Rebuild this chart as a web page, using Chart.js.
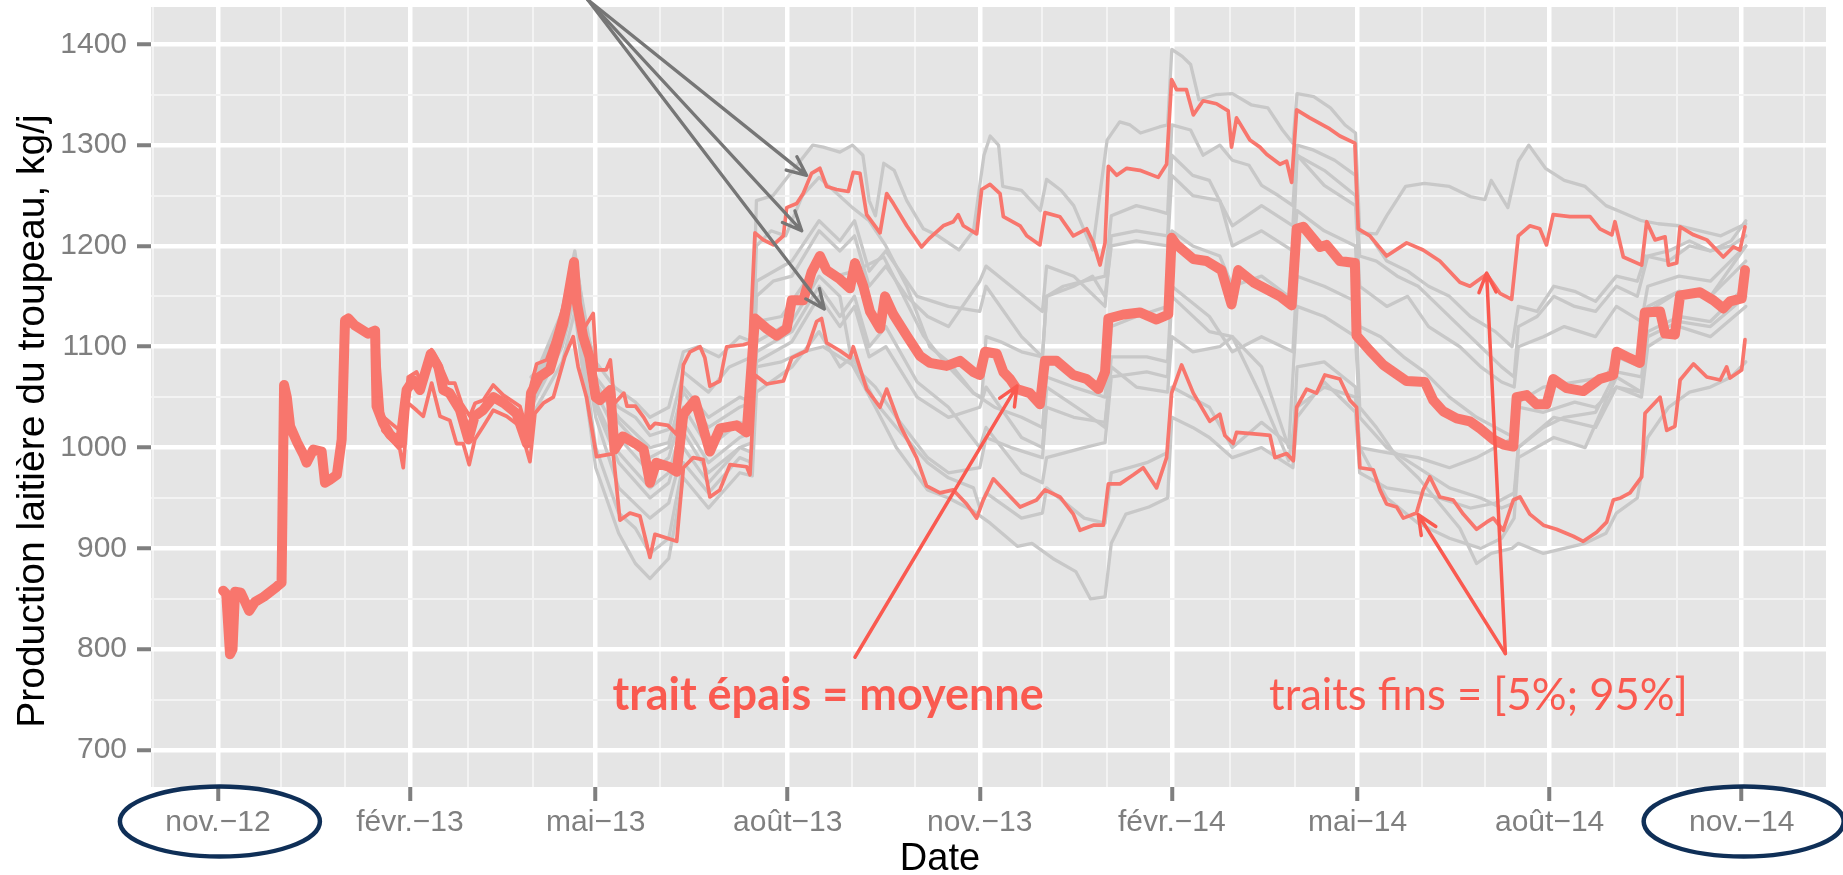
<!DOCTYPE html>
<html lang="fr">
<head>
<meta charset="utf-8">
<title>Production laitière du troupeau</title>
<script src="https://cdn.jsdelivr.net/npm/chart.js@4.4.1/dist/chart.umd.min.js"></script>
<style>
  html, body { margin: 0; padding: 0; background: #fff; }
  #wrap { width: 1843px; height: 875px; }
</style>
</head>
<body>
<div id="wrap"><canvas id="milk-chart" width="1843" height="875"></canvas></div>
<script>
// x values are days since 1 Nov 2012, y values in kg/j
const xTickLabels = ["nov.−12", "févr.−13", "mai−13", "août−13", "nov.−13", "févr.−14", "mai−14", "août−14", "nov.−14"];
const xTickMonths = [[2012, 10], [2013, 1], [2013, 4], [2013, 7], [2013, 10], [2014, 1], [2014, 4], [2014, 7], [2014, 10]];
const yTickValues = [700, 800, 900, 1000, 1100, 1200, 1300, 1400];

// thick line = moyenne
const meanDays = [2.5,4,5.8,7,8.2,11,15,17.8,22,28.2, 30.5,31.7,33,34.6,38,41,42.5,45.7,49.7,51.3,
  53.7,57,59.3,60.9,62.5,65.7,72,75.3,76,79.2, 82.4,87.2,90.4,93.6,96.8,102,105.6,108,111,116,
  120,123,127,132,137,143,148,150,154,159, 165.5,170.6,172,175,178,181,183,188,190,194,
  200,204,207,210,216,219.8,223,228.6,232.5,235.7, 240.5,248.5,253.3,257.3,262.9,267.7,272.5,274.9,280.4,284.4,
  288.4,291.6,298,302.8,305.2,309.2,312.4,317.2,319.6,323.6, 330,336.3,341.1,349.1,355.5,361.9,365,367.5,373.1,376.3,
  379.5,382.7,389,393.8,396.2,401.8,409.8,416.2,421.8,425, 426.6,433.8,441.7,449.7,455.3,456.9,459.3,467.3,473.6,480.8,
  485.6,488.8,496,502.4,508.8,514.4,516.8,520,528,531.1, 537.5,544.7,545.5,551.9,558.3,563.1,569.5,578.2,582.2,587,
  593.4,599.8,604.6,611,615.8,620.6,622.2,627,631.7,636.5, 639.7,646.1,654.1,662.1,668.5,670.1,674.9,681.2,683.6,690.9,
  693.3,698,700.5,710,716.5,721.2,724.4,730,731.6];
const meanKg = [858,855,795,800,857,856,838,847,852,862, 866,1062,1050,1021,1005,993,985,998,996,965,
  968,973,1008,1126,1128,1121,1113,1116,1041,1024, 1013,1004,1057,1067,1057,1093,1080,1057,1054,1037,
  1008,1031,1037,1050,1044,1034,1004,1054,1070,1077, 1123,1184,1143,1110,1090,1050,1047,1057,998,1011,
  1004,998,965,985,981,976,1033,1047,1019,996, 1019,1022,1015,1128,1118,1111,1118,1146,1146,1174,
  1190,1176,1167,1158,1183,1160,1135,1118,1150,1132, 1111,1091,1084,1081,1086,1075,1072,1095,1093,1075,
  1068,1058,1054,1043,1086,1086,1072,1068,1058,1075, 1128,1132,1134,1127,1132,1208,1201,1187,1185,1176,
  1142,1176,1164,1157,1150,1141,1217,1219,1199,1201, 1185,1183,1111,1096,1082,1075,1066,1065,1047,1036,
  1029,1026,1019,1008,1003,1001,1050,1052,1043,1043, 1068,1059,1056,1068,1072,1095,1090,1084,1134,1135,
  1113,1112,1151,1154,1146,1138,1145,1148,1176];

// thin lines = 95% and 5%
const upperDays = [76,79,88.8,91.2,95.2,97.6,102.4,106.4,110.3,113.5, 116.7,120.7,123.2,127.1,131.9,136.7,144.7,147.1,150.3,152.7,
  157.5,160.7,165.5,170.6,173.4,175,179.8,181.4,186,188, 190,194.5,196,200,204,207,209.4,215.6,219.8,223,
  226.2,231,233.3,235.7,240.5,243.7,251.7,254.9,257.3,261.3, 266.1,270.9,272.5,277.3,280.4,284.4,288.4,291.6,296.4,302,
  304.4,307.6,310.8,317.2,320.4,323.6,330,337.1,341.1,347.5, 352.3,354.7,357.1,363.5,365.9,369.9,374.7,376.3,384.3,387.5,
  393.8,396.2,403.4,409.8,416.2,419.4,422.6,425,426.6,430.6, 435.4,441.7,450.5,454.5,456.9,459.3,464,467.3,472,478.4,
  484,485.6,488,494.4,499.2,502.4,508.8,512,514.4,516.8, 523.1,532.7,537.5,544.7,546.3,551.9,559.9,569.5,577.4,585.4,
  595,599.8,607.8,614.2,619.8,623,628.5,633.3,636.5,639.7, 647.7,657.4,662.1,667.8,669.3,673.3,682.1,684.5,688.5,693.3,
  694.9,698.9,700.5,706.9,713.3,721.2,726,729.2,731.6];
const upperKg = [1116,1031,1014,1070,1075,1064,1097,1083,1064,1064, 1044,1031,1044,1047,1062,1052,1041,1024,1064,1083,
  1087,1105,1140,1184,1136,1117,1133,1077,1077,1087, 1044,1054,1041,1041,1030,1019,1024,1022,1013,1082,
  1095,1100,1089,1061,1066,1100,1102,1104,1213,1206, 1201,1210,1238,1242,1252,1272,1277,1259,1256,1254,
  1273,1272,1231,1213,1252,1242,1220,1199,1208,1220, 1224,1231,1220,1212,1256,1261,1252,1229,1220,1210,
  1201,1233,1229,1210,1217,1203,1181,1203,1279,1270, 1277,1275,1268,1281,1365,1355,1355,1330,1344,1341,
  1334,1298,1327,1305,1298,1291,1281,1284,1263,1335, 1327,1316,1309,1302,1217,1210,1190,1203,1196,1185,
  1164,1160,1172,1153,1147,1210,1220,1217,1201,1231, 1229,1229,1217,1211,1224,1189,1181,1224,1206,1209,
  1181,1183,1219,1211,1206,1189,1199,1196,1219];

const lowerDays = [76,79,87.2,88.8,91.2,95.2,98.4,102.4,106.4,111.1, 114.3,117.5,120.4,123.1,127.1,131.9,138.3,144.7,149.5,151.9,
  155.9,160.7,166.2,170.2,172.6,176.6,181.4,189.4,192.6,197.4, 202.2,207,209.4,219.8,223,227.7,232.5,235.7,240.5,245.3,
  253.3,254.9,257.3,262.9,270.9,274.9,282,286.8,289.2,291.6, 298,302.8,304.4,310.8,317.2,320.4,326.8,334.7,339.5,345.9,
  352.3,358.7,363.5,366.7,371.5,377.9,384.3,392.2,396.2,403.4, 409.8,413,419.4,424.2,426.6,432.2,438.6,443.3,449.7,454.5,
  456.9,461.7,467.3,475.2,480,482.4,486.4,488,499.2,504, 506.4,512,515.2,516.8,521.6,526.3,530.3,537.5,542.3,545.5,
  547.1,553.5,556.7,559.9,564.7,567.9,574.2,577.4,580.6,585.4, 591.8,596.6,603,607.8,611,615.8,620.6,623.8,628.5,635,
  641.3,649.3,654.1,660.5,665.3,668.5,672,676.5,682.1,683.7, 690.9,694.1,698,700.5,706.9,713.3,719.7,722.8,724.4,730,
  731.6];
const lowerKg = [1110,1017,998,980,1044,1037,1031,1064,1031,1027, 1004,1004,983,1008,1021,1037,1031,1021,986,1034,
  1044,1050,1090,1110,1080,1050,991,994,928,935, 932,891,914,907,980,990,988,951,958,983,
  981,973,1072,1063,1066,1089,1096,1125,1128,1104, 1096,1089,1100,1058,1040,1058,1022,990,962,955,
  958,944,930,948,969,955,941,948,958,951, 934,918,923,923,964,964,973,980,960,990,
  1054,1082,1054,1026,1033,1012,1004,1015,1013,1012, 990,994,987,1040,1058,1054,1072,1068,1047,1040,
  980,978,958,944,941,930,935,958,971,951, 948,934,919,926,930,918,948,951,934,923,
  919,912,907,916,926,948,950,955,971,1034, 1050,1017,1021,1067,1083,1070,1067,1080,1069,1077,
  1107];

// grey lines = individual runs, [day, kg]
const runA = [[150,1070],[160,1090],[171,1195],[176,1120],[181,1085],[190,1060],[200,1045],[207,1030],[216,1040],[223,1095],
  [230,1100],[240,1090],[250,1110],[256,1105],[258,1245],[266,1250],[272,1266],[285,1300],[290,1298],[298,1293],
  [304,1300],[309,1290],[312,1245],[315,1230],[319,1282],[324,1275],[330,1245],[338,1217],[345,1210],[355,1196],
  [362,1215],[367,1290],[370,1309],[374,1300],[376,1259],[385,1255],[394,1235],[397,1266],[404,1255],[410,1240],
  [419,1196],[426,1305],[432,1323],[437,1320],[442,1312],[451,1318],[455,1320],[457,1395],[462,1388],[466,1380],
  [470,1345],[478,1350],[486,1351],[495,1340],[503,1337],[510,1315],[515,1302],[517,1351],[525,1348],[533,1337],
  [540,1320],[545,1312],[547,1215],[552,1210],[560,1185],[570,1175],[580,1160],[590,1150],[600,1130],[612,1115],
  [620,1100],[623,1140],[632,1135],[640,1160],[650,1155],[660,1145],[670,1170],[680,1165],[684,1190],[695,1185],
  [705,1200],[715,1195],[725,1205],[732,1225]];
const runB = [[150,1062],[165,1135],[171,1188],[181,1070],[192,1040],[200,1030],[207,1012],[216,1018],[223,1075],[235,1055],
  [245,1080],[256,1090],[258,1200],[265,1215],[272,1210],[280,1250],[288,1268],[295,1255],[304,1238],[312,1225],
  [320,1200],[330,1160],[341,1100],[350,1085],[362,1054],[366,1050],[368,1110],[375,1105],[385,1095],[395,1090],
  [397,1150],[405,1160],[415,1165],[425,1170],[428,1230],[440,1240],[450,1235],[455,1232],[457,1320],[466,1315],
  [472,1290],[480,1300],[486,1285],[494,1280],[500,1260],[508,1250],[515,1240],[517,1300],[525,1295],[535,1285],
  [545,1270],[547,1190],[555,1185],[565,1170],[575,1160],[585,1140],[595,1120],[605,1100],[615,1080],[621,1070],
  [623,1120],[632,1130],[640,1150],[650,1140],[660,1135],[670,1160],[680,1150],[685,1190],[695,1195],[705,1205],
  [715,1195],[725,1200],[732,1210]];
const runC = [[150,1058],[165,1128],[171,1185],[181,1060],[192,1030],[207,1000],[216,1005],[223,1055],[235,1020],[250,1040],
  [256,1045],[258,1150],[266,1165],[275,1170],[288,1215],[298,1195],[305,1210],[312,1160],[320,1180],[330,1150],
  [340,1130],[350,1120],[365,1165],[368,1180],[380,1160],[395,1135],[397,1180],[410,1170],[420,1150],[425,1140],
  [428,1210],[440,1215],[455,1210],[457,1290],[467,1270],[475,1265],[486,1220],[500,1240],[515,1220],[517,1290],
  [530,1275],[545,1250],[547,1213],[555,1212],[560,1230],[569,1259],[578,1262],[590,1259],[600,1249],[607,1246],
  [610,1265],[618,1238],[623,1284],[628,1300],[636,1277],[645,1265],[655,1259],[665,1240],[672,1234],[682,1225],
  [690,1222],[700,1220],[710,1215],[720,1210],[732,1222]];
const runD = [[150,1040],[165,1100],[171,1150],[181,1000],[192,935],[200,920],[207,895],[216,910],[223,985],[235,955],
  [250,990],[256,985],[258,1080],[270,1085],[280,1095],[290,1100],[304,1082],[315,1040],[325,1000],[340,958],
  [350,950],[362,937],[370,925],[383,902],[390,905],[400,890],[411,877],[418,850],[425,852],[428,905],
  [435,934],[446,941],[455,950],[457,1030],[467,1020],[475,1010],[486,990],[500,1000],[515,980],[517,1030],
  [530,1065],[545,1035],[547,975],[560,960],[575,955],[585,950],[600,940],[612,945],[621,955],[623,1000],
  [635,1020],[645,1030],[660,1035],[670,1075],[682,1070],[685,1115],[700,1130],[715,1125],[732,1160]];
const runE = [[150,1045],[165,1110],[171,1165],[181,1030],[192,960],[207,930],[216,945],[223,1000],[235,965],[250,1000],
  [256,995],[258,1085],[275,1105],[288,1150],[298,1120],[305,1140],[312,1090],[320,1100],[335,1050],[350,1030],
  [365,1040],[368,1060],[385,1010],[395,1000],[397,1060],[415,1035],[425,1020],[428,1090],[445,1090],[455,1085],
  [457,1160],[475,1130],[486,1095],[500,1110],[515,1095],[517,1170],[530,1160],[545,1145],[547,1040],[555,1020],
  [565,990],[575,970],[585,945],[595,920],[603,885],[610,895],[620,900],[623,905],[635,895],[645,900],
  [655,905],[665,915],[670,935],[680,950],[685,1010],[695,1040],[705,1055],[715,1060],[725,1070],[732,1085]];
const runF = [[150,1055],[165,1125],[171,1182],[181,1055],[192,1010],[207,975],[216,990],[223,1040],[235,1000],[250,1025],
  [256,1020],[258,1125],[270,1130],[280,1160],[288,1185],[296,1170],[305,1175],[319,1189],[338,1111],[350,1080],
  [362,1054],[372,1040],[385,1030],[395,1020],[397,1070],[410,1060],[425,1050],[428,1120],[440,1130],[455,1140],
  [457,1215],[467,1200],[480,1190],[486,1160],[500,1170],[513,1150],[517,1235],[530,1215],[545,1200],[547,1120],
  [557,1110],[568,1090],[578,1075],[590,1050],[603,1030],[612,1020],[621,1010],[623,1045],[635,1060],[650,1065],
  [665,1070],[670,1090],[682,1080],[685,1135],[700,1155],[715,1150],[732,1185]];
const runG = [[150,1050],[165,1120],[171,1178],[181,1045],[192,995],[207,960],[216,975],[223,1025],[235,985],[250,1010],
  [256,1015],[258,1105],[275,1125],[288,1170],[298,1150],[304,1082],[315,1060],[325,1030],[340,990],[350,975],
  [365,980],[368,1010],[380,1000],[395,990],[397,1040],[410,1030],[425,1025],[428,1080],[440,1060],[455,1055],
  [457,1110],[467,1095],[480,1100],[486,1110],[500,1050],[513,987],[517,1040],[530,1060],[545,1050],[547,1000],
  [560,995],[575,990],[590,980],[603,990],[612,1000],[621,1010],[623,1040],[635,1035],[650,1045],[660,1040],
  [670,1060],[682,1055],[685,1110],[700,1125],[715,1120],[732,1150]];
const runH = [[150,1060],[165,1130],[171,1186],[181,1065],[192,1025],[207,990],[216,1000],[223,1060],[235,1030],[250,1050],
  [256,1045],[258,1165],[275,1185],[288,1225],[298,1205],[305,1225],[312,1175],[320,1195],[335,1150],[350,1140],
  [365,1135],[368,1160],[385,1110],[395,1090],[397,1150],[410,1160],[419,1170],[425,1150],[428,1200],[440,1205],
  [455,1200],[457,1270],[467,1250],[480,1245],[486,1200],[500,1215],[515,1195],[517,1290],[530,1260],[545,1240],
  [547,1160],[560,1140],[570,1150],[580,1120],[595,1100],[605,1080],[615,1065],[621,1060],[623,1100],[635,1110],
  [645,1120],[660,1110],[670,1140],[682,1125],[685,1160],[700,1170],[715,1165],[732,1200]];
const runI = [[150,1048],[165,1118],[171,1175],[181,1040],[192,985],[207,950],[216,965],[223,1015],[235,975],[250,1000],
  [256,1005],[258,1095],[275,1115],[288,1160],[298,1130],[305,1150],[312,1100],[320,1120],[335,1065],[350,1040],
  [365,1000],[368,1020],[385,975],[395,965],[397,990],[415,1000],[425,1005],[428,1070],[445,1075],[455,1070],
  [457,1150],[475,1115],[486,1110],[500,1080],[513,1000],[517,1140],[530,1130],[545,1110],[547,1030],[560,1000],
  [575,980],[590,960],[605,950],[615,940],[621,945],[623,1000],[640,1030],[660,1020],[670,1060],[682,1050],
  [685,1100],[700,1120],[715,1110],[732,1140]];
const runJ = [[150,1030],[165,1085],[171,1135],[181,980],[192,915],[200,885],[207,870],[216,890],[223,970],[235,940],
  [250,975],[256,972],[258,1055],[275,1080],[288,1115],[298,1080],[304,1090],[315,1045],[325,1020],[340,985],
  [350,970],[362,960],[365,940],[368,955],[385,930],[395,935],[397,960],[415,930],[425,925],[428,975],
  [445,985],[455,995],[457,1060],[475,1040],[486,1000],[500,1025],[515,1000],[517,1080],[530,1085],[545,1060],
  [547,1000],[560,950],[575,925],[590,910],[605,900],[615,910],[621,930],[623,990],[640,1010],[655,1000],
  [670,1070],[682,1055],[685,1140],[700,1155],[715,1150],[732,1200]];

// annotation anchors, in the same units as the data
const grayArrowFrom = [177.3, 1444];
const grayArrowTips = [[282, 1270], [279.7, 1215], [290.5, 1137.5]];
const meanArrow = [[305.2, 792], [382.8, 1061]];
const quantArrowFrom = [616.8, 795.6];
const quantArrowTips = [[575.1, 933.3], [607.8, 1173]];

const X_MIN = -32.05, X_MAX = 770.4;
const Y_MIN = 663.3, Y_MAX = 1437.0;

const RED = "#F8766D";
const NOTE_RED = "#FA5A50";
const GREY = "#C8C8C8";

function dayOf(y, m) {
  return (Date.UTC(y, m, 1) - Date.UTC(2012, 10, 1)) / 86400000;
}

function toPoints(days, values) {
  return days.map((d, i) => ({ x: d, y: values[i] }));
}

function drawArrow(ctx, x1, y1, x2, y2) {
  const ang = Math.atan2(y2 - y1, x2 - x1);
  const head = 21, spread = 0.42;
  ctx.beginPath();
  ctx.moveTo(x1, y1);
  ctx.lineTo(x2, y2);
  ctx.moveTo(x2 - head * Math.cos(ang - spread), y2 - head * Math.sin(ang - spread));
  ctx.lineTo(x2, y2);
  ctx.lineTo(x2 - head * Math.cos(ang + spread), y2 - head * Math.sin(ang + spread));
  ctx.stroke();
}

const panelBackground = {
  id: "panelBackground",
  beforeDraw(chart) {
    const { ctx, chartArea: a } = chart;
    ctx.save();
    ctx.fillStyle = "#E5E5E5";
    ctx.fillRect(a.left, a.top, a.right - a.left, a.bottom - a.top);
    ctx.restore();
  }
};

const notes = {
  id: "notes",
  afterDraw(chart) {
    const { ctx, chartArea } = chart;
    const xs = chart.scales.x, ys = chart.scales.y;
    const px = d => xs.getPixelForValue(d);
    const py = v => ys.getPixelForValue(v);

    ctx.save();
    ctx.lineCap = "round";
    ctx.lineJoin = "round";

    // grey arrows
    ctx.strokeStyle = "#767676";
    ctx.lineWidth = 3.3;
    grayArrowTips.forEach(t => {
      drawArrow(ctx, px(grayArrowFrom[0]), py(grayArrowFrom[1]), px(t[0]), py(t[1]));
    });

    // red arrows
    ctx.strokeStyle = NOTE_RED;
    ctx.lineWidth = 3.5;
    drawArrow(ctx, px(meanArrow[0][0]), py(meanArrow[0][1]), px(meanArrow[1][0]), py(meanArrow[1][1]));
    quantArrowTips.forEach(t => {
      drawArrow(ctx, px(quantArrowFrom[0]), py(quantArrowFrom[1]), px(t[0]), py(t[1]));
    });

    // red texts
    ctx.fillStyle = NOTE_RED;
    ctx.textBaseline = "alphabetic";
    ctx.textAlign = "left";
    ctx.font = "bold 45px Lato, 'Open Sans', sans-serif";
    ctx.fillText("trait épais = moyenne", px(189), py(739.7));
    ctx.font = "43.5px Lato, 'Open Sans', sans-serif";
    ctx.fillText("traits fins = [5%; 95%]", px(503.6), py(739.7));

    // axis titles
    ctx.fillStyle = "#000";
    ctx.font = "38px 'Liberation Sans', Arial, sans-serif";
    ctx.textAlign = "center";
    ctx.fillText("Date", 940, 869.5);
    ctx.save();
    ctx.translate(44, 421);
    ctx.rotate(-Math.PI / 2);
    ctx.font = "39px 'Liberation Sans', Arial, sans-serif";
    ctx.fillText("Production laitière du troupeau, kg/j", 0, 0);
    ctx.restore();

    // circles round the first and last tick labels
    ctx.strokeStyle = "#0F2F57";
    ctx.lineWidth = 4.5;
    [0, 730].forEach(d => {
      ctx.beginPath();
      ctx.ellipse(px(d) + 2, chartArea.bottom + 34.5, 100, 35, 0, 0, Math.PI * 2);
      ctx.stroke();
    });
    ctx.restore();
  }
};

const grayRuns = [runA, runB, runC, runD, runE, runF, runG, runH, runI, runJ];

const datasets = [
  { label: "moyenne", data: toPoints(meanDays, meanKg), borderColor: RED, borderWidth: 10 },
  { label: "95%", data: toPoints(upperDays, upperKg), borderColor: RED, borderWidth: 3.7 },
  { label: "5%", data: toPoints(lowerDays, lowerKg), borderColor: RED, borderWidth: 3.7 }
];
grayRuns.forEach((run, i) => {
  datasets.push({ label: "run " + (i + 1), data: run.map(p => ({ x: p[0], y: p[1] })), borderColor: GREY, borderWidth: 3.3 });
});
datasets.forEach(ds => {
  ds.pointRadius = 0;
  ds.tension = 0;
  ds.borderJoinStyle = "round";
  ds.borderCapStyle = "round";
  ds.fill = false;
});

Chart.defaults.font.family = "'Liberation Sans', Arial, sans-serif";

const gridColor = ctx => (ctx.tick && ctx.tick.isMajor ? "#FFFFFF" : "#F3F3F3");
const gridWidth = ctx => (ctx.tick && ctx.tick.isMajor ? 4.5 : 2);
const tickMarkColor = ctx => (ctx.tick && ctx.tick.isMajor ? "#7F7F7F" : "rgba(0,0,0,0)");

new Chart(document.getElementById("milk-chart"), {
  type: "line",
  data: { datasets },
  plugins: [panelBackground, notes],
  options: {
    responsive: false,
    animation: false,
    layout: { padding: { top: 7, right: 17, left: 0, bottom: 0 } },
    plugins: { legend: { display: false }, tooltip: { enabled: false } },
    scales: {
      x: {
        type: "linear",
        position: "bottom",
        min: X_MIN,
        max: X_MAX,
        afterBuildTicks: scale => {
          const ticks = [];
          for (let t = 2012 * 12 + 9; t <= 2014 * 12 + 11; t++) {
            const y = Math.floor(t / 12), m = t % 12;
            const k = xTickMonths.findIndex(p => p[0] === y && p[1] === m);
            ticks.push({ value: dayOf(y, m), isMajor: k >= 0, text: k >= 0 ? xTickLabels[k] : "" });
          }
          scale.ticks = ticks;
        },
        afterFit: scale => {
          scale.height = 88;
          scale.paddingLeft = 0;
          scale.paddingRight = 0;
        },
        border: { display: false },
        grid: { color: gridColor, lineWidth: gridWidth, tickColor: tickMarkColor, tickWidth: 4, tickLength: 14 },
        ticks: {
          autoSkip: false,
          maxRotation: 0,
          padding: 4,
          color: "#7F7F7F",
          font: { size: 30 },
          callback: (value, index, ticks) => ticks[index].text
        }
      },
      y: {
        type: "linear",
        position: "left",
        min: Y_MIN,
        max: Y_MAX,
        afterBuildTicks: scale => {
          const ticks = [];
          yTickValues.forEach((v, i) => {
            ticks.push({ value: v, isMajor: true });
            if (i < yTickValues.length - 1) ticks.push({ value: (v + yTickValues[i + 1]) / 2, isMajor: false });
          });
          scale.ticks = ticks;
        },
        afterFit: scale => {
          scale.width = 151;
          scale.paddingTop = 0;
          scale.paddingBottom = 0;
        },
        border: { display: false },
        grid: { color: gridColor, lineWidth: gridWidth, tickColor: tickMarkColor, tickWidth: 4, tickLength: 14 },
        ticks: {
          padding: 10,
          color: "#7F7F7F",
          font: { size: 30 },
          callback: (value, index, ticks) => (ticks[index].isMajor ? String(value) : "")
        }
      }
    }
  }
});
</script>
</body>
</html>
